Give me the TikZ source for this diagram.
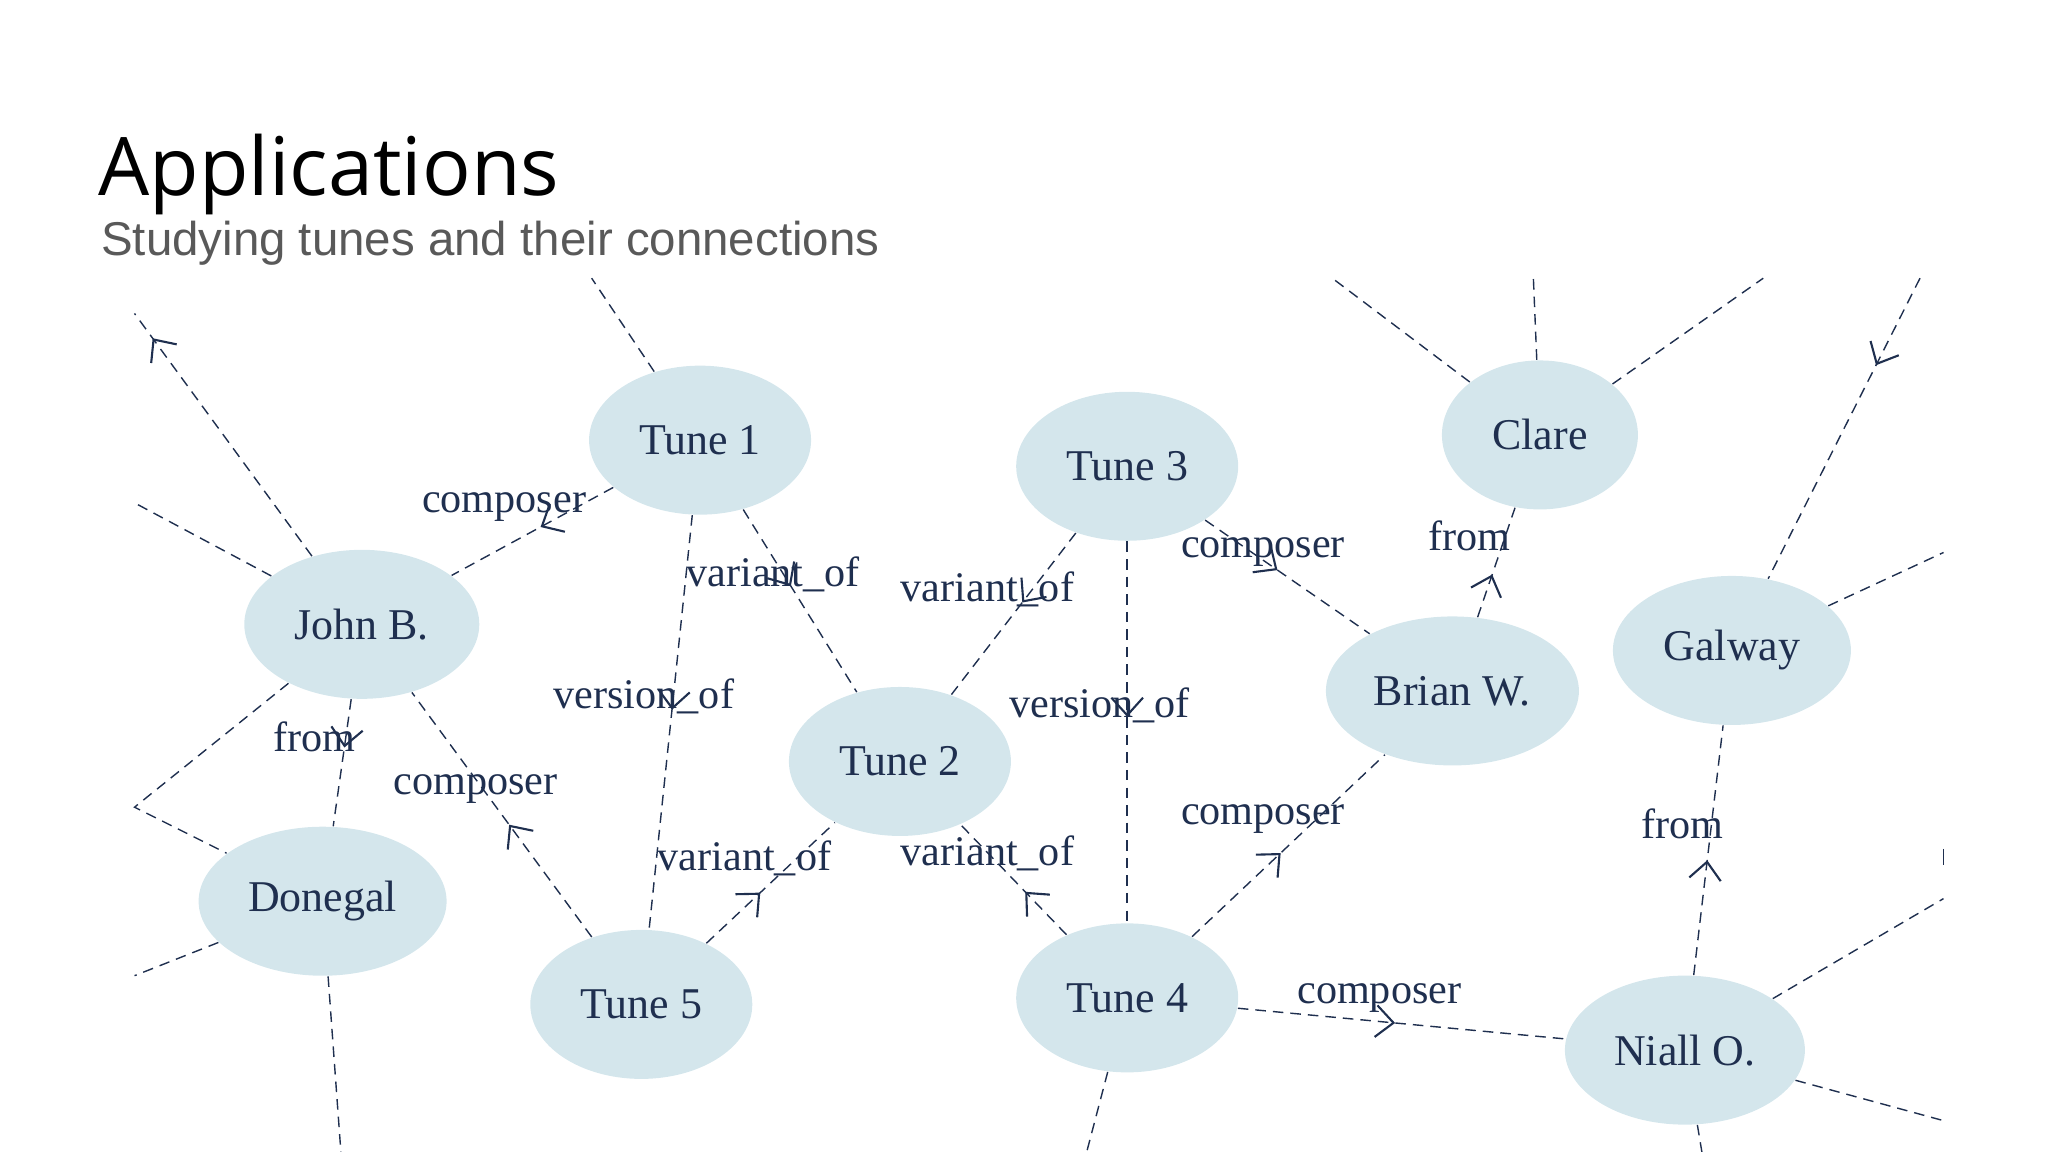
\documentclass[tikz,border=0pt]{standalone}
\usepackage{fontspec}
\setmainfont{Liberation Serif}
\newfontfamily\titlefont{Open Sans}
\newfontfamily\subfont{Liberation Sans}
\usetikzlibrary{arrows.meta,decorations.markings,shapes.geometric}
\definecolor{nodefill}{HTML}{D4E6EC}
\definecolor{ink}{HTML}{1F2F4F}
\definecolor{subgray}{HTML}{595959}
\begin{document}
\begin{tikzpicture}[x=0.01306cm,y=-0.01306cm,
  tn/.style={ellipse,fill=nodefill,text=ink,font=\fontsize{12.5}{14}\selectfont,minimum height=1.49cm,inner sep=0pt},
  lab/.style={text=ink,font=\fontsize{12}{14}\selectfont,inner sep=0pt},
  e/.style={draw=ink,dashed,thin,dash pattern=on 3pt off 2pt},
  marr/.style={postaction={decorate,decoration={markings,mark=at position #1 with {\arrow{Straight Barb[length=5pt,width=9pt,line width=0.6pt]}}}}}]
\useasboundingbox (0,0) rectangle (1568,882);
\clip (0,0) rectangle (1568,882);
\node[anchor=base west,font=\titlefont\fontsize{23}{26}\selectfont] (title) at (66,150) {Applications};
\node[anchor=base west,text=subgray,font=\subfont\fontsize{13.5}{16}\selectfont] (sub) at (68,196) {Studying tunes and their connections};

\node[tn,minimum width=2.22cm] (t1) at (536,337) {Tune 1};
\node[tn,minimum width=2.22cm] (t3) at (863,357) {Tune 3};
\node[tn,minimum width=1.96cm] (clare) at (1179,333) {Clare};
\node[tn,minimum width=2.35cm] (john) at (277,478) {John B.};
\node[tn,minimum width=2.22cm] (t2) at (689,583) {Tune 2};
\node[tn,minimum width=2.53cm] (brian) at (1112,529) {Brian W.};
\node[tn,minimum width=2.38cm] (galway) at (1326,498) {Galway};
\node[tn,minimum width=2.48cm] (donegal) at (247,690) {Donegal};
\node[tn,minimum width=2.22cm] (t5) at (491,769) {Tune 5};
\node[tn,minimum width=2.22cm] (t4) at (863,764) {Tune 4};
\node[tn,minimum width=2.40cm] (niall) at (1290,804) {Niall O.};

% connectors
\draw[e,marr=0.45] (t1) -- (john);
\draw[e,marr=0.42] (t1) -- (t2);
\draw[e,marr=0.47] (t1) -- (t5);
\draw[e,marr=0.43] (t3) -- (t2);
\draw[e,marr=0.46] (t3) -- (t4);
\draw[e,marr=0.44] (t3) -- (brian);
\draw[e,marr=0.39] (brian) -- (clare);
\draw[e,marr=0.38] (john) -- (donegal);
\draw[e,marr=0.46] (t5) -- (john);
\draw[e,marr=0.42] (t5) -- (t2);
\draw[e,marr=0.39] (t4) -- (t2);
\draw[e,marr=0.46] (t4) -- (brian);
\draw[e,marr=0.48] (t4) -- (niall);
\draw[e,marr=0.46] (niall) -- (galway);

% dangling connectors
\coordinate (d1) at (103,240);
\coordinate (d2) at (103,385);
\coordinate (d3) at (103,618);
\coordinate (d4) at (103,747);
\coordinate (d5) at (261,882);
\coordinate (d6) at (453,213);
\coordinate (d7) at (1020,213);
\coordinate (d8) at (1174,213);
\coordinate (d9) at (1350,213);
\coordinate (d10) at (1470,213);
\coordinate (d11) at (1488,423);
\coordinate (d12) at (1488,688);
\coordinate (d13) at (1488,858);
\coordinate (d14) at (1303,882);
\coordinate (d15) at (832,882);
\draw[e,marr=0.9] (john) -- (d1);
\draw[e] (john) -- (d2);
\draw[e] (john) -- (d3) -- (donegal);
\draw[e] (donegal) -- (d4);
\draw[e] (donegal) -- (d5);
\draw[e] (t1) -- (d6);
\draw[e] (clare) -- (d7);
\draw[e] (clare) -- (d8);
\draw[e] (clare) -- (d9);
\draw[e,marr=0.29] (d10) -- (galway);
\draw[e] (galway) -- (d11);
\draw[e] (niall) -- (d12);
\draw[e] (niall) -- (d13);
\draw[e] (niall) -- (d14);
\draw[e] (t4) -- (d15);
\draw[ink,thin] (1488,650) -- (1488,662);

% labels
\node[lab] (l1) at (386,388) {composer};
\node[lab] (l2) at (592,440) {variant\_of};
\node[lab] (l3) at (493,533) {version\_of};
\node[lab] (l4) at (756,451) {variant\_of};
\node[lab] (l5) at (842,540) {version\_of};
\node[lab] (l6) at (967,423) {composer};
\node[lab] (l7) at (1125,410) {from};
\node[lab] (l8) at (241,564) {from};
\node[lab] (l9) at (364,604) {composer};
\node[lab] (l10) at (570,657) {variant\_of};
\node[lab] (l11) at (756,653) {variant\_of};
\node[lab] (l12) at (967,627) {composer};
\node[lab] (l13) at (1056,764) {composer};
\node[lab] (l14) at (1288,631) {from};
\end{tikzpicture}
\end{document}
